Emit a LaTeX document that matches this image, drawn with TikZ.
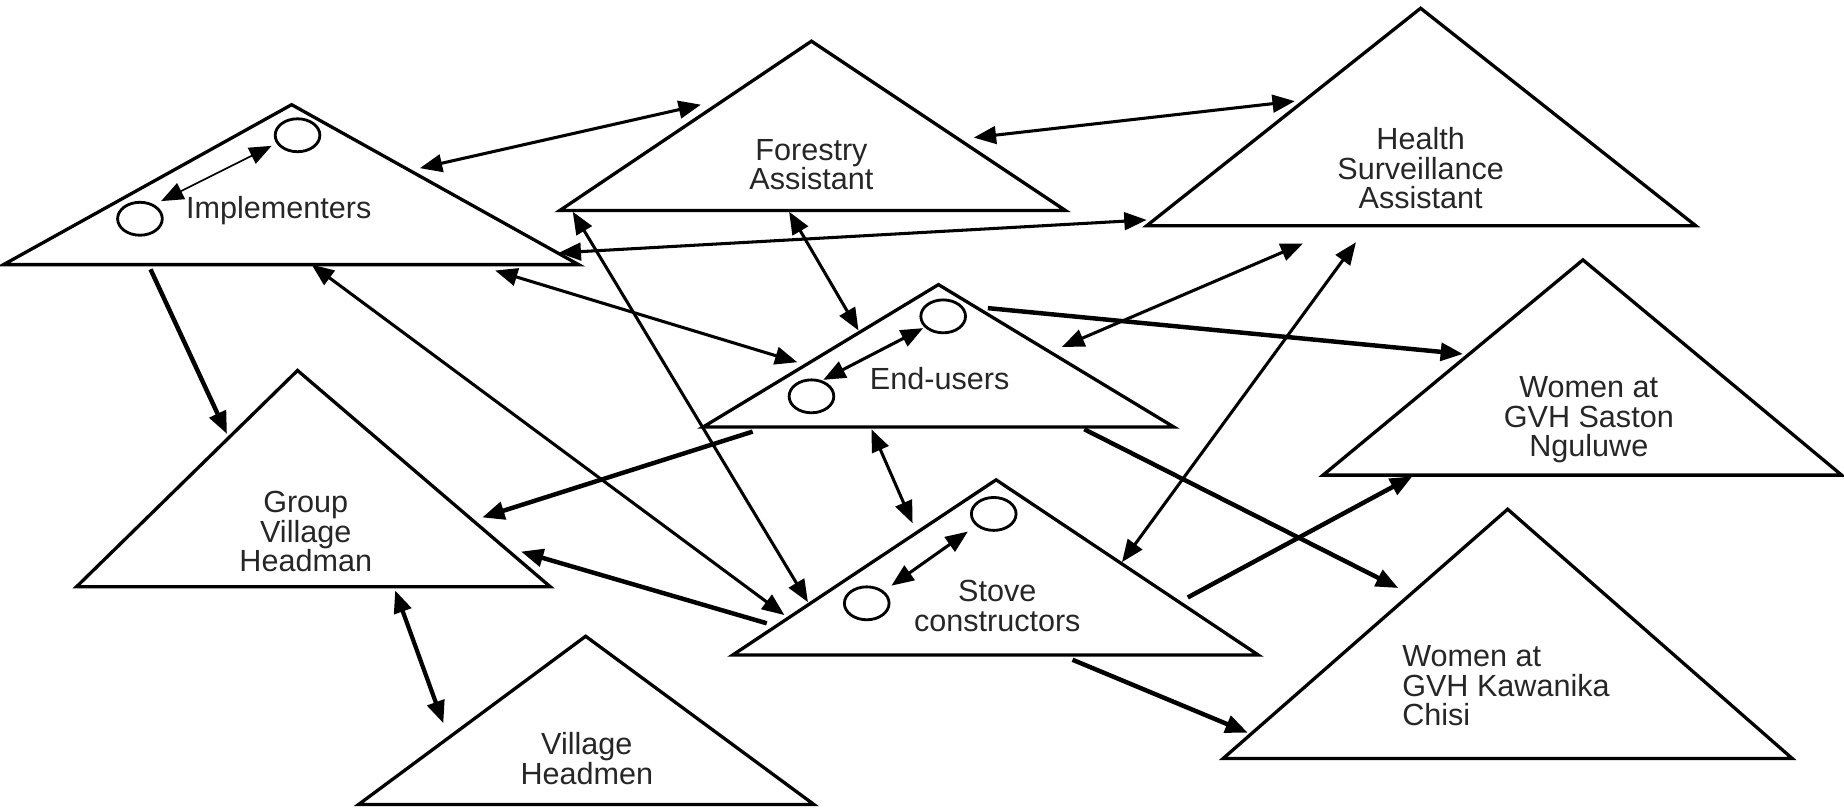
\documentclass[tikz,border=0pt]{standalone}
\usepackage{fontspec}
\setmainfont{Liberation Sans}
\usetikzlibrary{arrows.meta,shapes.geometric}
\begin{document}
\begin{tikzpicture}[x=0.5pt,y=-0.5pt,
  tri/.style={draw=black,line width=1.4pt,line join=miter},
  lbl/.style={font=\fontsize{13}{12.6}\selectfont,align=center,inner sep=0pt,text=black!85},
  ring/.style={draw=black,line width=1.2pt,ellipse,inner sep=0pt,minimum width=19pt,minimum height=14pt},
  tip/.style={-{Triangle[length=9.5pt,width=7.5pt]}},
  bitip/.style={{Triangle[length=9.5pt,width=7.5pt]}-{Triangle[length=9.5pt,width=7.5pt]}},
  biarrow/.style={bitip,line width=1.3pt},
  bithin/.style={bitip,line width=0.7pt},
  bithick/.style={bitip,line width=1.8pt},
  onearrow/.style={tip,line width=1.9pt}]
\useasboundingbox (0,0) rectangle (1568,687);
% triangles
\draw[tri] (248,89) -- (3,225) -- (492,225) -- cycle;
\draw[tri] (690,35) -- (476,179) -- (906,179) -- cycle;
\draw[tri] (1208,7) -- (975,192) -- (1442,192) -- cycle;
\draw[tri] (798,242) -- (598,363) -- (998,363) -- cycle;
\draw[tri] (1346,221) -- (1125,404) -- (1566,404) -- cycle;
\draw[tri] (253,315) -- (65,499) -- (468,499) -- cycle;
\draw[tri] (847,408) -- (623,557) -- (1070,557) -- cycle;
\draw[tri] (1282,433) -- (1040,645) -- (1524,645) -- cycle;
\draw[tri] (498,541) -- (305,684) -- (692,684) -- cycle;
% labels
\node[lbl] (impl) at (237,179) {Implementers};
\node[lbl] (fa) at (690,140) {Forestry\\Assistant};
\node[lbl] (hsa) at (1208,143) {Health\\Surveillance\\Assistant};
\node[lbl] (eu) at (799,322) {End-users};
\node[lbl] (ws) at (1351,357) {Women at\\GVH Saston\\Nguluwe};
\node[lbl] (gvh) at (260,452) {Group\\Village\\Headman};
\node[lbl] (sc) at (848,515) {Stove\\constructors};
\node[lbl,align=left,anchor=west] (wk) at (1192,583) {Women at\\GVH Kawanika\\Chisi};
\node[lbl] (vh) at (499,645) {Village\\Headmen};
% circles
\node[ring] (ia) at (253,115) {};
\node[ring] (ib) at (119,186) {};
\node[ring] (ea) at (802,269) {};
\node[ring] (eb) at (690,337) {};
\node[ring] (sa) at (845,437) {};
\node[ring] (sb) at (737,513) {};
% connector end points
\coordinate (c1a) at (357,143); \coordinate (c1b) at (596,89);
\coordinate (c2a) at (828,117); \coordinate (c2b) at (1101,86);
\coordinate (c3a) at (475,215); \coordinate (c3b) at (975,187);
\coordinate (c4a) at (421,230); \coordinate (c4b) at (678,308);
\coordinate (c5a) at (487,180); \coordinate (c5b) at (687,512);
\coordinate (c6a) at (671,180); \coordinate (c6b) at (730,281);
\coordinate (c7a) at (265,225); \coordinate (c7b) at (667,523);
\coordinate (c8a) at (128,229); \coordinate (c8b) at (193,369);
\coordinate (c9a) at (903,295); \coordinate (c9b) at (1108,207);
\coordinate (c10a) at (840,262); \coordinate (c10b) at (1244,301);
\coordinate (c11a) at (954,478); \coordinate (c11b) at (1153,206);
\coordinate (c12a) at (640,367); \coordinate (c12b) at (410,440);
\coordinate (c13a) at (741,365); \coordinate (c13b) at (776,445);
\coordinate (c14a) at (922,365); \coordinate (c14b) at (1189,500);
\coordinate (c15a) at (652,530); \coordinate (c15b) at (443,469);
\coordinate (c16a) at (1010,508); \coordinate (c16b) at (1201,405);
\coordinate (c17a) at (912,561); \coordinate (c17b) at (1061,623);
\coordinate (c18a) at (336,502); \coordinate (c18b) at (377,615);
\coordinate (i1) at (137,171); \coordinate (i2) at (231,124);
\coordinate (e1) at (700,323); \coordinate (e2) at (785,279);
\coordinate (s1) at (758,498); \coordinate (s2) at (823,452);
% connectors
\draw[biarrow] (c1a) -- (c1b);
\draw[biarrow] (c2a) -- (c2b);
\draw[biarrow] (c3a) -- (c3b);
\draw[biarrow] (c4a) -- (c4b);
\draw[biarrow] (c5a) -- (c5b);
\draw[biarrow] (c6a) -- (c6b);
\draw[biarrow] (c7a) -- (c7b);
\draw[onearrow] (c8a) -- (c8b);
\draw[biarrow] (c9a) -- (c9b);
\draw[onearrow] (c10a) -- (c10b);
\draw[biarrow] (c11a) -- (c11b);
\draw[onearrow] (c12a) -- (c12b);
\draw[biarrow] (c13a) -- (c13b);
\draw[onearrow] (c14a) -- (c14b);
\draw[onearrow] (c15a) -- (c15b);
\draw[onearrow] (c16a) -- (c16b);
\draw[onearrow] (c17a) -- (c17b);
\draw[bithick] (c18a) -- (c18b);
\draw[bithin] (i1) -- (i2);
\draw[biarrow] (e1) -- (e2);
\draw[biarrow] (s1) -- (s2);
\end{tikzpicture}
\end{document}
